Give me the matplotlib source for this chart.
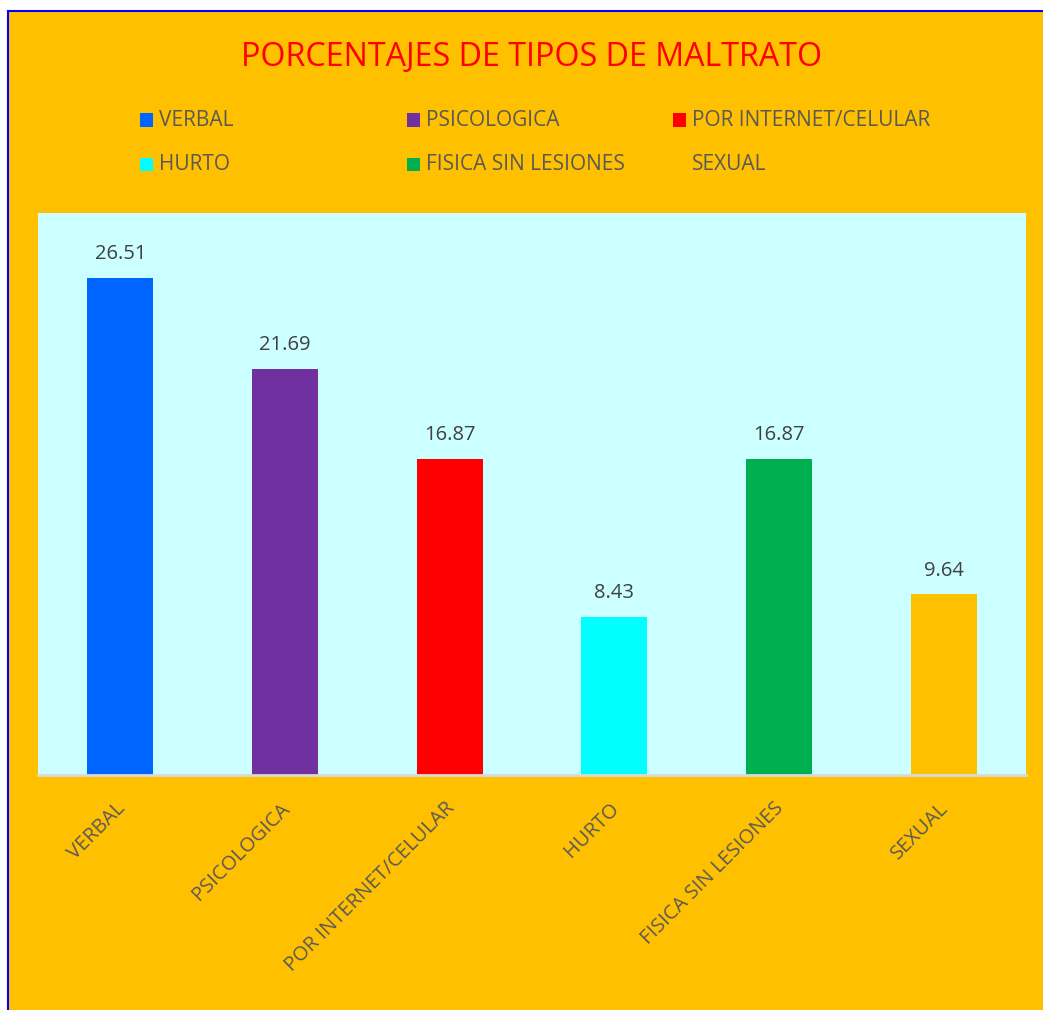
import matplotlib.pyplot as plt
import matplotlib.transforms as mtransforms
from matplotlib.patches import Rectangle

# datos del grafico
categorias = ["VERBAL", "PSICOLOGICA", "POR INTERNET/CELULAR", "HURTO", "FISICA SIN LESIONES", "SEXUAL"]
porcentajes = [26.51, 21.69, 16.87, 8.43, 16.87, 9.64]
colores = ["#0066FF", "#7030A0", "#FF0000", "#00FFFF", "#00B050", "#FFC000"]

plt.rcParams['font.family'] = ['Open Sans', 'DejaVu Sans']

W, H = 1043, 1010
fig = plt.figure(figsize=(W / 100, H / 100), dpi=100, facecolor="white")

# fondo naranja con borde azul
fondo = Rectangle((8 / W, -0.1), 1.2, 1 - 11 / H + 0.1, transform=fig.transFigure,
                  facecolor="#FFC000", edgecolor="#0000FF", linewidth=1.5, zorder=-1)
fig.patches.append(fondo)

ax = fig.add_axes([38 / W, 1 - 775 / H, (1026 - 38) / W, (775 - 213) / H])
ax.set_zorder(2)
ax.set_facecolor("#CCFFFF")

x = range(len(categorias))
barras = ax.bar(x, porcentajes, width=0.4, color=colores, zorder=2)

ax.set_xlim(-0.5, len(categorias) - 0.5)
ax.set_ylim(0, 30)
ax.set_yticks([])
ax.set_xticks(list(x))
ax.set_xticklabels(categorias, rotation=45, ha="right", rotation_mode="anchor",
                   fontsize=14.5, color="#595959")
ax.tick_params(axis="x", length=0, pad=17)
desplaza = mtransforms.ScaledTranslation(-5 / 100, 0, fig.dpi_scale_trans)
for lab in ax.get_xticklabels():
    lab.set_transform(lab.get_transform() + desplaza)

for s in ["top", "right", "left"]:
    ax.spines[s].set_visible(False)
ax.spines["bottom"].set_color("#D9D9D9")
ax.spines["bottom"].set_linewidth(2)

# etiquetas de datos
for xi, v in zip(x, porcentajes):
    ax.annotate("{:.2f}".format(v), (xi, v), xytext=(0, 10), textcoords="offset points",
                ha="center", va="bottom", fontsize=14.5, color="#404040")

# titulo
fig.text(532 / W, 1 - 57 / H, "PORCENTAJES DE TIPOS DE MALTRATO", color="#FF0000",
         fontsize=23.2, ha="center", va="center")

# leyenda manual: 3 columnas, 2 filas
col_x = [140, 407, 673]
fila_y = [120, 164]
for i, (cat, c) in enumerate(zip(categorias, colores)):
    cx = col_x[i % 3]
    cy = fila_y[i // 3]
    fig.patches.append(Rectangle((cx / W, 1 - (cy + 6.5) / H), 13 / W, 13 / H,
                                 transform=fig.transFigure, facecolor=c, edgecolor="none"))
    fig.text((cx + 19) / W, 1 - cy / H, cat, color="#595959", fontsize=15,
             ha="left", va="center")

fig.savefig("out.png", dpi=100, facecolor=fig.get_facecolor())
